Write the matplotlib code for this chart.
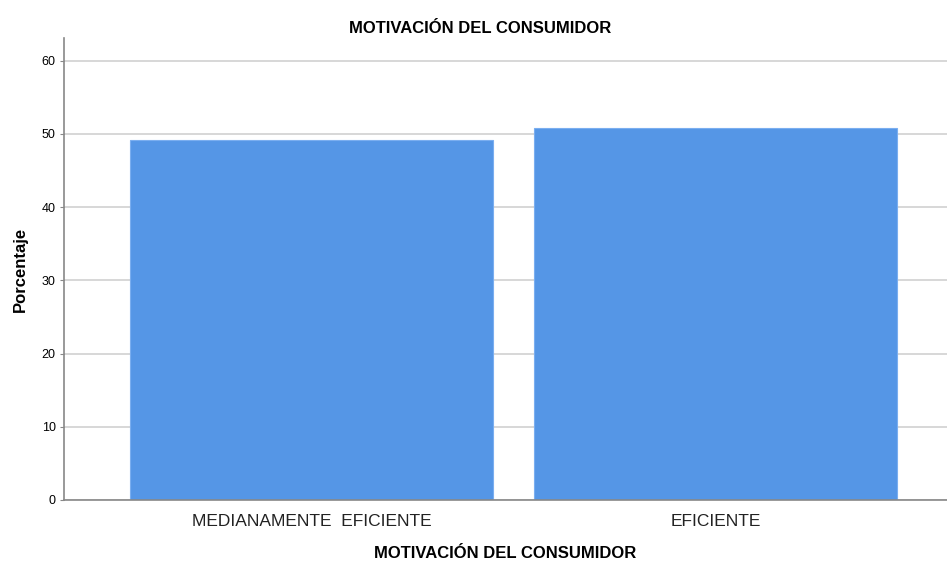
import matplotlib
matplotlib.use('Agg')
import matplotlib.pyplot as plt

# Data
categorias = ['MEDIANAMENTE  EFICIENTE', 'EFICIENTE']
porcentajes = [49.2, 50.8]
y_ticks = [0, 10, 20, 30, 40, 50, 60]

plt.rcParams['font.family'] = ['Liberation Sans', 'DejaVu Sans']

fig = plt.figure(figsize=(9.47, 5.64), dpi=100)
ax = fig.add_axes([0.0676, 0.1135, 0.9324, 0.8191])

x = list(range(len(categorias)))
ax.bar(x, porcentajes, width=0.9, color='#5596E6', edgecolor='#7aaef0',
       linewidth=0.8, zorder=2)

ax.set_xlim(-0.613, 1.573)
ax.set_ylim(0, 63.1)
ax.set_yticks(y_ticks)
ax.set_xticks(x)
ax.set_xticklabels(categorias, fontsize=12.5, color='#222222')
ax.tick_params(axis='y', labelsize=9, length=3, color='#888888', pad=3)
ax.tick_params(axis='x', length=0, pad=10)

# Grid
ax.yaxis.grid(True, color='#d4d4d4', linewidth=1.3, zorder=0)
ax.set_axisbelow(True)

for s in ['top', 'right']:
    ax.spines[s].set_visible(False)
ax.spines['left'].set_color('#888888')
ax.spines['bottom'].set_color('#888888')
ax.spines['left'].set_linewidth(1.2)
ax.spines['bottom'].set_linewidth(1.2)

ax.set_ylabel('Porcentaje', fontsize=12, fontweight='bold', labelpad=10)
ax.set_xlabel('MOTIVACIÓN DEL CONSUMIDOR', fontsize=12, fontweight='bold', labelpad=12)
fig.text(0.507, 0.95, 'MOTIVACIÓN DEL CONSUMIDOR', fontsize=12,
         fontweight='bold', ha='center', va='center')

fig.savefig('out.png', dpi=100)
